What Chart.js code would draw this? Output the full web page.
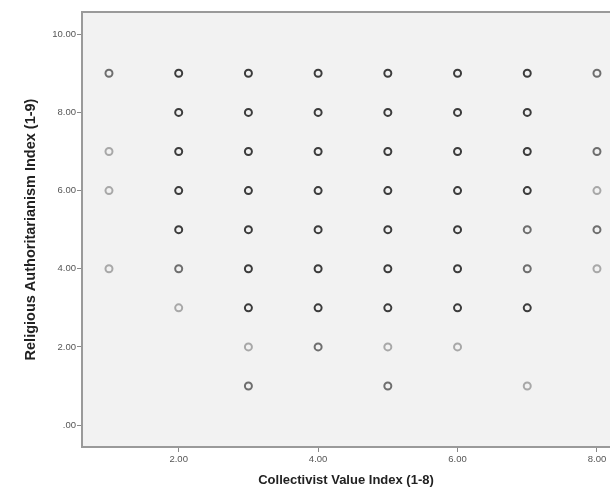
<!DOCTYPE html>
<html>
<head>
<meta charset="utf-8">
<script src="https://cdn.jsdelivr.net/npm/chart.js@4/dist/chart.umd.min.js"></script>
<style>
  html, body { margin: 0; padding: 0; background: #fff; overflow: hidden; }
  canvas { display: block; }
</style>
</head>
<body>
<canvas id="scatter" width="610" height="491"></canvas>
<script>
// points grouped by how dark SPSS drew them (overlap density)
const darkPoints = [
    [2, 9], [3, 9], [4, 9], [5, 9], [6, 9], [7, 9],
    [2, 8], [3, 8], [4, 8], [5, 8], [6, 8], [7, 8],
    [2, 7], [3, 7], [4, 7], [5, 7], [6, 7], [7, 7],
    [2, 6], [3, 6], [4, 6], [5, 6], [6, 6], [7, 6],
    [2, 5], [3, 5], [4, 5], [5, 5], [6, 5],
    [3, 4], [4, 4], [5, 4], [6, 4],
    [3, 3], [4, 3], [5, 3], [6, 3], [7, 3]
];
const mediumPoints = [[1, 9], [8, 9], [8, 7], [7, 5], [8, 5], [2, 4], [7, 4], [4, 2], [3, 1], [5, 1]];
const lightPoints = [[1, 7], [1, 6], [8, 6], [1, 4], [8, 4], [2, 3], [3, 2], [5, 2], [6, 2], [7, 1]];

const xTicks = [2, 4, 6, 8];
const yTicks = [0, 2, 4, 6, 8, 10];
const xTitle = 'Collectivist Value Index (1-8)';
const yTitle = 'Religious Authoritarianism Index (1-9)';

function toXY(list) {
    return list.map(p => ({ x: p[0], y: p[1] }));
}

function fmt(v) {
    const s = v.toFixed(2);
    return v === 0 ? '.00' : s;
}

// gray plot background + top frame line like SPSS
const frame = {
    id: 'frame',
    beforeDraw(chart) {
        const { ctx, chartArea: a } = chart;
        ctx.save();
        ctx.fillStyle = '#f2f2f2';
        ctx.fillRect(a.left, a.top, a.right - a.left, a.bottom - a.top);
        ctx.strokeStyle = '#9a9a9a';
        ctx.lineWidth = 2;
        ctx.beginPath();
        ctx.moveTo(a.left, a.top);
        ctx.lineTo(a.right, a.top);
        ctx.stroke();
        ctx.restore();
    }
};

const tickFont = { family: 'Liberation Sans', size: 9.5 };

function ds(list, color) {
    return {
        data: toXY(list),
        pointStyle: 'circle',
        pointRadius: 3.5,
        pointBorderWidth: 2,
        pointBorderColor: color,
        pointBackgroundColor: 'rgba(0,0,0,0)',
        showLine: false
    };
}

new Chart(document.getElementById('scatter'), {
    type: 'scatter',
    data: {
        datasets: [
            ds(lightPoints, '#a8a8a8'),
            ds(mediumPoints, '#6e6e6e'),
            ds(darkPoints, '#3c3c3c')
        ]
    },
    options: {
        responsive: false,
        animation: false,
        layout: { autoPadding: false, padding: { top: 12, right: 0, left: 0, bottom: 0 } },
        plugins: { legend: { display: false }, tooltip: { enabled: false } },
        scales: {
            x: {
                type: 'linear',
                min: 0.613,
                max: 8.187,
                afterBuildTicks: s => { s.ticks = xTicks.map(v => ({ value: v })); },
                afterFit: s => { s.height = 44; s.paddingLeft = 0; s.paddingRight = 0; },
                grid: { drawOnChartArea: false, drawTicks: true, tickLength: 5, color: '#888', lineWidth: 1 },
                border: { display: true, color: '#9a9a9a', width: 2 },
                ticks: { font: tickFont, color: '#555', padding: 2, maxRotation: 0, callback: v => fmt(v) },
                title: {
                    display: true, text: xTitle, color: '#222',
                    font: { family: 'Liberation Sans', size: 13, weight: 'bold' },
                    padding: { top: 0, bottom: 3 }
                }
            },
            y: {
                type: 'linear',
                min: -0.56,
                max: 10.568,
                afterBuildTicks: s => { s.ticks = yTicks.map(v => ({ value: v })); },
                afterFit: s => { s.width = 82; s.paddingTop = 0; s.paddingBottom = 0; },
                grid: { drawOnChartArea: false, drawTicks: true, tickLength: 5, color: '#888', lineWidth: 1 },
                border: { display: true, color: '#9a9a9a', width: 2 },
                ticks: { font: tickFont, color: '#555', padding: 1, callback: v => fmt(v) },
                title: {
                    display: true, text: yTitle, color: '#222',
                    font: { family: 'Liberation Sans', size: 14.5, weight: 'bold' },
                    padding: { top: 22, bottom: 0 }
                }
            }
        }
    },
    plugins: [frame]
});
</script>
</body>
</html>
